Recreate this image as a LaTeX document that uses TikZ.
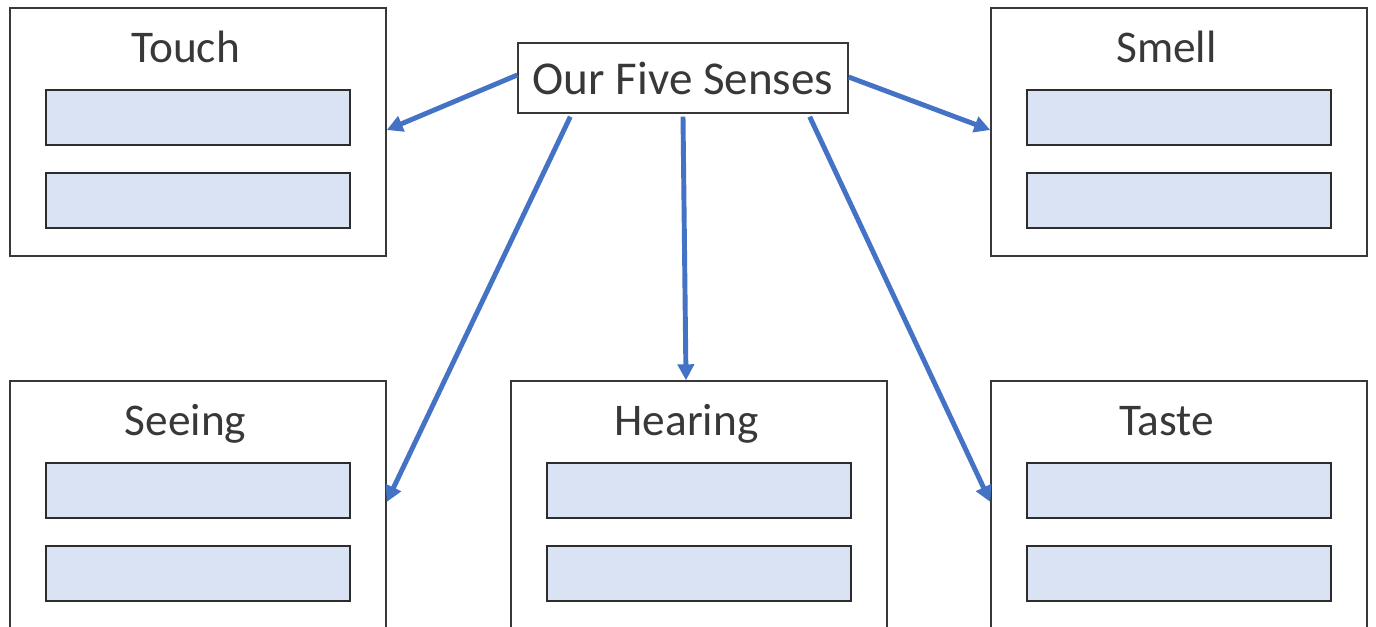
\documentclass[tikz,border=0pt]{standalone}
\usepackage{fontspec}
\setmainfont{Carlito}
\usepackage{xcolor}
\usetikzlibrary{arrows.meta,positioning,calc}
\definecolor{linkblue}{HTML}{4472C4}
\definecolor{slotfill}{HTML}{DAE3F3}
\definecolor{ink}{HTML}{383838}
\begin{document}
\begin{tikzpicture}[
  every node/.style={font=\fontsize{25.8}{30}\selectfont,text=ink},
  sense/.style={draw=ink,line width=0.8pt,minimum width=7.52cm,minimum height=4.96cm,inner sep=0pt},
  slot/.style={draw=ink!80!black,line width=0.8pt,fill=slotfill,minimum width=6.08cm,minimum height=1.1cm,inner sep=0pt},
  hub/.style={draw=ink,line width=0.8pt,fill=white,minimum width=6.6cm,minimum height=1.4cm,font=\fontsize{26.8}{32}\selectfont},
  e/.style={-{Triangle[length=3.2mm,width=3.2mm]},line width=2.8pt,draw=linkblue}]
 \useasboundingbox (0,0) rectangle (27.52,-12.52);
 \clip (0,0) rectangle (27.52,-12.52);
 \foreach \n/\x/\y/\lbl in {touch/3.96/-2.64/Touch,smell/23.58/-2.64/Smell,seeing/3.96/-10.10/Seeing,hearing/13.98/-10.10/Hearing,taste/23.58/-10.10/Taste}{
  \node[sense] (\n) at (\x,\y) {};
  \node[anchor=base] (\n-title) at ($(\n.north)+(-0.25,-1.10)$) {\lbl};
  \node[slot] (\n-a) at ($(\n.center)+(0,0.29)$) {};
  \node[slot] (\n-b) at ($(\n.center)+(0,-1.37)$) {};
 }
 \node[hub] (hub) at (13.66,-1.56) {Our Five Senses};
 \draw[e] ([yshift=0.06cm]hub.west) -- ([yshift=0.04cm]touch.east);
 \draw[e] ([yshift=0.02cm]hub.east) -- ([yshift=0.04cm]smell.east -| smell.west);
 \draw[e] ([xshift=1.06cm,yshift=-0.06cm]hub.south west) -- ([yshift=0.06cm]seeing.east);
 \draw[e] ([yshift=-0.06cm]hub.south) -- ([xshift=-0.26cm]hearing.north);
 \draw[e] ([xshift=-0.78cm,yshift=-0.06cm]hub.south east) -- ([yshift=0.06cm]taste.west);
\end{tikzpicture}
\end{document}
